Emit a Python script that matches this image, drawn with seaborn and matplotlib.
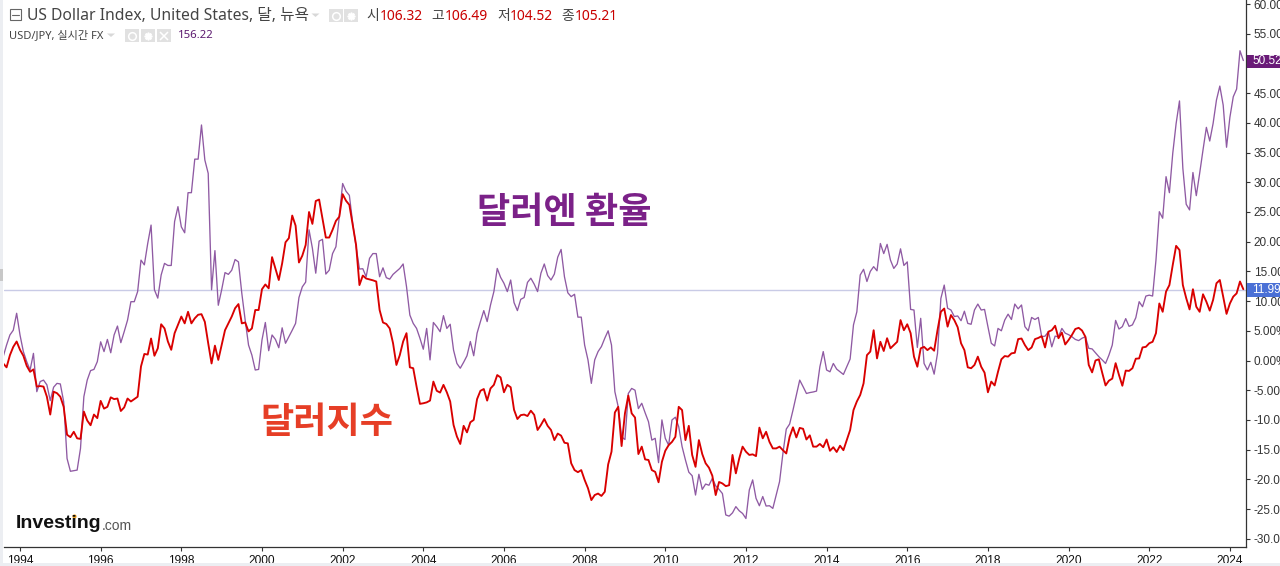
import numpy as np
import pandas as pd
import matplotlib
matplotlib.use("Agg")
import matplotlib.pyplot as plt
from matplotlib.patches import Rectangle
import seaborn as sns

# monthly % change, first point is Aug 1993
dxy_1993_1999 = [
    -0.5, -1.15, 0.9, 2.3, 3.2,
    1.8, 0.8, -0.9, -1.9, -1.5, -4.4, -4.3, -4.4, -6.1, -9.1, -5.25, -5.5,
    -6.1, -7.8, -12.5, -12.9, -12, -13.1, -13.2, -8.6, -10.1, -10.9, -9.1, -9.7,
    -6.8, -8.1, -7.8, -6.2, -6.5, -6.4, -8.5, -7.9, -6.4, -6.9, -6.5, -6.1,
    -1.0, 1.1, 1.0, 3.7, 0.8, 2.05, 6.1, 5.4, 3.2, 1.8, 4.6, 6.0,
    7.4, 6.25, 8.2, 6.25, 7.1, 7.7, 7.8, 6.5, 2.9, -0.5, 2.5, 0.1,
    2.6, 5.1, 6.25, 7.4, 8.8, 9.5, 6.25, 6.4, 4.9, 5.4, 8.5, 8.5,
]
dxy_2000_2009 = [
    12, 12.8, 12.15, 17.4, 15.5, 13.55, 16.35, 19.9, 20.6, 24.4, 22.7, 16.5,
    17.65, 19.45, 25, 23, 26.85, 27.1, 23.9, 20.7, 20.7, 22, 23.5, 24.2,
    28, 26.9, 26.2, 22.8, 19.45, 12.7, 14.3, 13.8, 13.65, 13.5, 13.3, 8.5,
    6.4, 6.15, 5.4, 2.9, -0.75, 0.9, 3.2, 4.6, -1.15, -1.3, -4.4, -7.3,
    -7.2, -7.05, -6.75, -3.55, -5.1, -5.4, -4.1, -5.35, -6.9, -10.85, -12.8, -14.05,
    -11, -12.1, -10.4, -10, -6.5, -5.1, -4.8, -6.75, -4.7, -4.1, -2.45, -2.85,
    -5.35, -4.1, -4.5, -8.3, -9.85, -9.2, -9.1, -9.35, -8.45, -9.15, -11.7, -10.85,
    -9.85, -11, -11.7, -13.4, -12.3, -12.65, -13.85, -13.95, -17.3, -18.45, -18.8, -18.45,
    -20.1, -21.5, -23.5, -22.65, -22.4, -22.8, -22.1, -17.5, -15.35, -8.75, -7.8, -14.4,
    -8.9, -5.9, -8.9, -9.6, -15.75, -14.5, -16.65, -16.75, -18.45, -18.75, -20.5, -17.05,
]
dxy_2010_2019 = [
    -15.2, -14.25, -13.7, -12.85, -7.8, -8.35, -13.4, -11, -15.9, -17.9, -13.4, -15.75,
    -17.3, -18.05, -19.4, -22.65, -20.45, -20.7, -21.15, -21, -15.9, -19, -16.5, -14.5,
    -15.35, -15.9, -15.8, -16.1, -11.3, -13.1, -12, -13.7, -14.8, -14.8, -14.5, -15.1,
    -15.65, -12.85, -11.25, -12.95, -11.35, -11.5, -13.3, -12.6, -14.5, -14.5, -14.05, -14.6,
    -13.3, -15.2, -14.6, -15.4, -14.35, -15.1, -13.4, -11.7, -8.35, -6.9, -5.8, -3.85,
    0.9, 1.5, 5.1, 0.35, 3.15, 1.6, 3.75, 2.05, 2.6, 3.15, 6.8, 5.1,
    6.1, 4.6, 0.65, -1.05, 2.05, 2.3, 1.75, 2.2, 1.65, 5.1, 8.2, 8.75,
    5.7, 7.65, 6.8, 5.6, 2.9, 1.75, -1.15, -1.3, -0.75, 0.65, -1.05, -2.05,
    -5.35, -3.55, -4.2, -1.9, 0.2, 0.75, 0.65, 1.2, 1.3, 3.6, 3.7, 2.6,
    1.75, 2.2, 3.6, 3.8, 4.1, 2.2, 4.85, 5.1, 5.85, 3.75, 4.7, 2.7,
]
dxy_2020_2024 = [
    3.45, 4.3, 5.3, 5.5, 5.05, 4.0, -0.75, -2, 0, 0.2, -2.05, -4.2,
    -3.4, -3.05, -0.45, -2.45, -4.25, -1.7, -1.75, -1.3, 0.3, 0.35, 2.2, 2.3,
    2.9, 3.15, 4.6, 9.6, 8.2, 11.6, 12.7, 16.1, 19.3, 18.6, 12.7, 10.5,
    8.6, 12, 9.05, 8.2, 11.15, 9.9, 8.4, 10.2, 13, 13.55, 10.75, 7.85,
    9.6, 10.75, 11.3, 13.3, 12,
]

jpy_1993_1999 = [
    0.65, 2.6, 4.3, 5.1, 7.95,
    4.3, 1.5, -0.2, -1.6, 1.2, -5.25, -3.55, -3.3, -4.1, -6.75, -4.5, -3.85,
    -3.95, -6.95, -16.5, -18.65, -18.55, -18.45, -14.8, -6.1, -3.3, -1.7, -1.5, -0.2,
    3.15, 1.5, 3.55, 1.3, 4.3, 5.8, 3, 4.85, 6.8, 9.9, 9.9, 11.6,
    16.9, 16.1, 19.7, 22.8, 11.9, 10.5, 14.4, 16.35, 16, 16, 23.4, 25.9,
    22.5, 21.5, 28.25, 28.25, 33.9, 33.9, 39.65, 33.75, 31.5, 11.9, 18.5, 9.3,
    11.9, 14.8, 14.5, 15.2, 17, 16.6, 11.3, 6.8, 2.6, 0.9, -1.6, -1.5,
]
jpy_2000_2009 = [
    3.45, 6.4, 1.65, 4.3, 3.55, 2.15, 5.5, 2.9, 4, 5.1, 6.25, 10.6,
    12.4, 13.2, 22, 18.9, 14.7, 20.1, 20.4, 14.55, 15.2, 18, 19.15, 24.2,
    29.8, 28.5, 27.8, 23.1, 19.15, 15.4, 15.45, 14.1, 17.2, 18, 18, 14.1,
    15.6, 13.95, 13.7, 14.5, 15, 15.5, 16.25, 12.45, 7.65, 6.25, 5.4, 3.75,
    1.9, 5.4, 0.1, 6.4, 5.7, 4.85, 7.55, 5.4, 6.1, 1.75, -0.5, -1.3,
    -0.3, 0.8, 3.2, 0.8, 4.6, 6.55, 8.4, 6.55, 9.35, 11.6, 15.5, 14,
    13, 11.6, 13.55, 9.75, 8.4, 10.3, 10.6, 13.15, 13.85, 12.85, 11.6, 14.7,
    16.25, 14.3, 13.55, 14.55, 17.4, 18.7, 14.1, 11.4, 10.75, 11.15, 7.3, 7.3,
    2.6, 0.1, -3.85, 0.1, 1.5, 2.35, 3.75, 5, 2.6, -5.25, -7.8, -12.85,
    -13.3, -5.55, -4.7, -5, -8.1, -7.2, -8.8, -10.3, -13.4, -13.1, -17.2, -10,
]
jpy_2010_2019 = [
    -13.1, -14.25, -10, -9.55, -11.15, -14.5, -16.75, -18.8, -19.4, -22.65, -19.15, -21.7,
    -20.8, -21, -19.85, -21.1, -21.7, -22.4, -26, -26.2, -25.65, -24.6, -25.3, -25.75,
    -26.6, -21.8, -20.1, -23.2, -24.45, -22.9, -24.5, -24.45, -24.9, -22.65, -20.4, -15.65,
    -11.55, -10.7, -8.35, -5.8, -3.3, -4.4, -5.55, -5.4, -5.3, -5.15, -1.05, 1.5,
    -1.6, -1.9, -0.5, -1.45, -1.9, -2.35, -1.05, 0.25, 6, 8.2, 14.4, 15.35,
    13.3, 15, 15.8, 15.1, 19.7, 18, 19.55, 16.9, 15.5, 16.25, 18.8, 16,
    16.6, 8.6, 8.5, 2.2, 7.1, -0.5, -1.6, -0.3, -2.3, 1.2, 10.45, 12.7,
    8.8, 8.5, 7.4, 7.5, 6.7, 8.3, 6.25, 6.1, 8.5, 9.5, 8.5, 8.6,
    5.7, 2.9, 2.45, 5.4, 5, 6.8, 7.8, 6.9, 9.5, 8.7, 9.35, 5.7,
    5, 7.25, 6.9, 7.25, 4, 4.1, 4.85, 2.3, 4.1, 4, 5.4, 4.6,
]
jpy_2020_2024 = [
    4.35, 4, 3.55, 3.35, 3.75, 4, 2.05, 1.95, 1.3, 0.65, 0.1, -0.5,
    0.9, 2.6, 6.75, 5.3, 5.7, 7.05, 5.75, 6, 7.2, 9.9, 9.05, 10.85,
    11, 10.85, 16.9, 25.05, 23.95, 30.95, 28.25, 34.9, 39.9, 43.7, 32.35, 26.3,
    25.35, 31.65, 27.75, 31.5, 35.45, 39.25, 36.95, 39.9, 43.85, 46.2, 43, 35.9,
    40.95, 44.4, 45.7, 52.15, 50.5,
]

year_ticks = list(range(1994, 2026, 2))
pct_ticks = list(range(-30, 65, 5))

W, H = 1280, 566
PURPLE = "#8f5aa3"
RED = "#d90000"
KR = ["Noto Sans", "Noto Sans CJK KR"]

dxy = dxy_1993_1999 + dxy_2000_2009 + dxy_2010_2019 + dxy_2020_2024
jpy = jpy_1993_1999 + jpy_2000_2009 + jpy_2010_2019 + jpy_2020_2024
years = 1994 + (np.arange(len(dxy)) - 5) / 12

df = pd.DataFrame({"year": years, "dxy": dxy, "jpy": jpy})

sns.set_style("white")
fig = plt.figure(figsize=(W / 100, H / 100), dpi=100)
ax = fig.add_axes([3.5 / W, 1 - 547 / H, (1246 - 3.5) / W, 547 / H])


def put(x, y, s, **kw):
    # pixel position, y from the top
    kw.setdefault("va", "center")
    return fig.text(x / W, 1 - y / H, s, **kw)


def box(x0, y0, x1, y1, color, **kw):
    fig.add_artist(Rectangle((x0 / W, 1 - y1 / H), (x1 - x0) / W, (y1 - y0) / H,
                             transform=fig.transFigure, facecolor=color,
                             edgecolor="none", **kw))


ax.axhline(11.9, color="#c9cbe6", lw=1, zorder=1)
sns.lineplot(data=df, x="year", y="jpy", ax=ax, color=PURPLE, linewidth=0.95, zorder=2)
sns.lineplot(data=df, x="year", y="dxy", ax=ax, color=RED, linewidth=1.35, zorder=3)

ax.set_xlim(1994 + (3.5 - 20) / 40.33, 1994 + (1246 - 20) / 40.33)
ax.set_ylim((360.5 - 547) / 5.94, 360.5 / 5.94)
ax.set_xlabel("")
ax.set_ylabel("")
ax.set_xticks(year_ticks)
ax.set_xticklabels(year_ticks, fontsize=8.6, family="Liberation Sans", color="#111111")
ax.yaxis.tick_right()
ax.set_yticks(pct_ticks)
ax.set_yticklabels([f"{p:.2f}%" for p in pct_ticks], fontsize=8.5,
                   family="Liberation Sans", color="#333333", ha="left")
ax.tick_params(axis="x", length=3, width=0.8, color="#333333", pad=2.5, bottom=True)
ax.tick_params(axis="y", length=3, width=0.8, color="#333333", pad=2.5, right=True)
ax.spines["top"].set_visible(False)
ax.spines["left"].set_visible(False)
for side in ["right", "bottom"]:
    ax.spines[side].set_color("#333333")
    ax.spines[side].set_linewidth(0.9)

# page edges
box(0, 0, 3, H, "#eceef2")
box(0, 269, 3, 281, "#c8c8c8")
box(0, 563, W, H, "#eceef2")

# last value flags
box(1247, 55, W, 68, "#6a1b78")
put(1252.5, 61.5, "50.52%", color="white", fontsize=8.5, family="Liberation Sans")
box(1247, 283, W, 297, "#4a70d6")
put(1252.5, 290, "11.99%", color="white", fontsize=8.5, family="Liberation Sans")

# header rows
fig.add_artist(Rectangle((9.5 / W, 1 - 20 / H), 11 / W, 11 / H, transform=fig.transFigure,
                         facecolor="none", edgecolor="#666666", lw=0.8))
fig.add_artist(plt.Line2D([11.5 / W, 18.5 / W], [1 - 14.5 / H] * 2, color="#666666", lw=0.8))
put(27, 16.5, "US Dollar Index, United States, 달, 뉴욕", fontsize=11.3, family=KR, color="#444444")
put(9, 35.5, "USD/JPY, 실시간 FX", fontsize=8, family=KR, color="#444444")

for tx, ty in [(315.5, 15), (111, 35)]:
    fig.add_artist(plt.Polygon([[(tx - 4) / W, 1 - (ty - 1.5) / H], [(tx + 4) / W, 1 - (ty - 1.5) / H],
                                [tx / W, 1 - (ty + 2) / H]], transform=fig.transFigure,
                               facecolor="#d8d8d8", edgecolor="none"))

for x0, y0, y1, glyph in [(329, 9, 22, "o"), (344, 9, 22, (8, 1, 0)), (125, 29, 42, "o"),
                          (141, 29, 42, (8, 1, 0)), (157, 29, 42, "x")]:
    box(x0, y0, x0 + 14, y1, "#e1e1e1")
    fill = "none" if glyph == "o" else "white"
    mark = plt.Line2D([(x0 + 7) / W], [1 - (y0 + 6.5) / H], marker=glyph, markersize=5.5,
                      markerfacecolor=fill, markeredgecolor="white", markeredgewidth=1.1,
                      linestyle="none")
    fig.add_artist(mark)

for x, label, x2, value in [(366, "시", 380, "106.32"), (431, "고", 445, "106.49"),
                            (497, "저", 510, "104.52"), (561, "종", 575, "105.21")]:
    put(x, 16.5, label, fontsize=10, family=KR, color="#444444")
    put(x2, 16.5, value, fontsize=10, family=KR, color="#c90000")
put(178, 35.5, "156.22", fontsize=8.2, family=KR, color="#5d1a70")

# series captions
put(564.5, 212, "달러엔 환율", fontsize=26, family="Noto Sans CJK KR", fontweight="bold",
    color="#7b2188", ha="center")
put(327, 423, "달러지수", fontsize=26, family="Noto Sans CJK KR", fontweight="bold",
    color="#e63e26", ha="center")

# logo
put(16, 524, "Investing", fontsize=14, family="Liberation Sans", fontweight="bold", color="#111111")
put(102, 526, ".com", fontsize=10, family="Liberation Sans", color="#555555")
fig.add_artist(plt.Line2D([74 / W], [1 - 516 / H], marker="o", markersize=2, color="#f5a623",
                          linestyle="none"))

fig.savefig("out.png", dpi=100)
